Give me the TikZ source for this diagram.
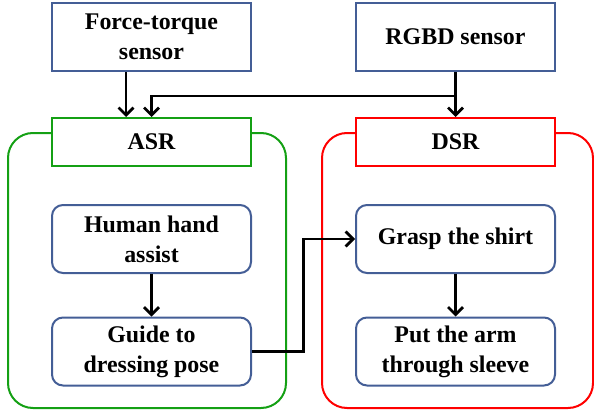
\documentclass[tikz,border=0pt]{standalone}
\usepackage{fontspec}
\setmainfont{Liberation Serif}
\usetikzlibrary{arrows.meta}

\definecolor{boxblue}{RGB}{68,94,150}
\definecolor{asrgreen}{RGB}{20,160,20}
\definecolor{dsrred}{RGB}{255,0,0}

\begin{document}
\begin{tikzpicture}[x=1pt,y=-1pt]
\tikzset{
  sensor/.style={rectangle,draw=boxblue,line width=2pt,minimum width=199pt,minimum height=68pt,
    align=center,font=\fontsize{23.9}{30}\selectfont\bfseries},
  task/.style={sensor,rounded corners=11pt},
  header/.style={sensor,minimum height=48pt,fill=white},
  group/.style={rectangle,draw,line width=2pt,rounded corners=25pt},
  directed/.style={-{Straight Barb[length=7.5pt,width=15pt]},line width=2.7pt}
}
\useasboundingbox (0,0) rectangle (594,412);
% the two stages
\node[group,draw=asrgreen,minimum width=278pt,minimum height=275pt] (n_asrbox) at (147,270.5) {};
\node[group,draw=dsrred,minimum width=271pt,minimum height=275pt] (n_dsrbox) at (457.5,270.5) {};
\node[header,draw=asrgreen] (n_asr) at (151.5,142) {ASR};
\node[header,draw=dsrred] (n_dsr) at (455.5,142) {DSR};
% sensors
\node[sensor] (n_ft) at (151.5,37) {Force-torque\\sensor};
\node[sensor] (n_rgbd) at (455.5,37) {RGBD sensor};
% tasks
\node[task] (n_hand) at (151.5,239) {Human hand\\assist};
\node[task] (n_guide) at (151.5,351.5) {Guide to\\dressing pose};
\node[task] (n_grasp) at (455.5,239) {Grasp the shirt};
\node[task] (n_sleeve) at (455.5,351.5) {Put the arm\\through sleeve};
\coordinate (c_split) at (455.5,96);
\draw[directed] ([xshift=-25.5pt]n_ft.south) -- ([xshift=-25.5pt]n_asr.north);
\draw[directed] (n_rgbd.south) -- (n_dsr.north);
\draw[directed] (c_split) -| (n_asr.north);
\draw[directed] (n_hand) -- (n_guide);
\draw[directed] (n_grasp) -- (n_sleeve);
\draw[directed] (n_guide.east) -- ++(51.5,0) |- (n_grasp.west);
\end{tikzpicture}
\end{document}
